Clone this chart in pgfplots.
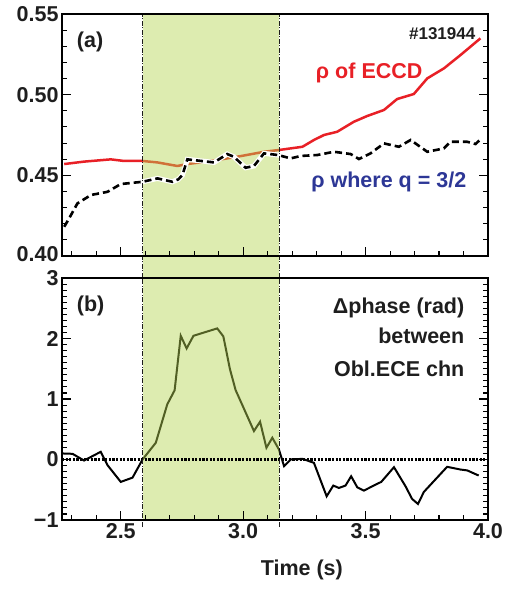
\documentclass[border=0pt]{standalone}
\usepackage{fontspec}
\setmainfont{Liberation Sans}
\usepackage{pgfplots}
\pgfplotsset{compat=1.18}
\definecolor{bandc}{RGB}{180,212,80}
\definecolor{eccdred}{RGB}{232,32,38}
\definecolor{qblue}{RGB}{45,55,150}
\definecolor{txt}{RGB}{30,30,30}
\newcommand{\bigf}{\fontsize{21.5}{25}\selectfont\bfseries}
\tikzset{tk/.style={line width=1.1pt, black}}
\pgfplotsset{
  common/.style={
    scale only axis, width=426pt, height=242pt, anchor=south west,
    xmin=2.26, xmax=4.0,
    axis on top, clip=false,
    axis line style={line width=2.4pt},
    tick align=inside,
    major tick length=9pt, minor tick length=5pt,
    tick style={line width=1.1pt, black},
    xtick={2.5,3.0,3.5,4.0},
    minor xtick={2.3,2.4,2.6,2.7,2.8,2.9,3.1,3.2,3.3,3.4,3.6,3.7,3.8,3.9},
    xtick pos=bottom, ytick pos=both,
    ticklabel style={font=\bigf, text=txt},
  }
}
\begin{document}
\begin{tikzpicture}
% ---------- top panel ----------
\begin{axis}[common, at={(62pt,-256pt)},
  ymin=0.40, ymax=0.55,
  ytick={0.40,0.45,0.50,0.55},
  yticklabels={\raisebox{5pt}{0.40},0.45,0.50,\raisebox{-4pt}{0.55}},
  minor ytick={0.41,0.42,0.43,0.44,0.46,0.47,0.48,0.49,0.51,0.52,0.53,0.54},
  xticklabels={},
]
\addplot[eccdred, line width=2.5pt] coordinates {
(2.269,0.457) (2.35,0.4585) (2.459,0.4599) (2.514,0.4589) (2.589,0.4589)
(2.65,0.458) (2.731,0.4558) (2.772,0.457) (2.85,0.4585) (2.935,0.4605)
(3.0,0.4622) (3.085,0.4646) (3.146,0.4657) (3.194,0.4667) (3.242,0.4677)
(3.289,0.4719) (3.330,0.475) (3.384,0.477) (3.452,0.4832) (3.507,0.4868)
(3.575,0.4905) (3.629,0.4973) (3.697,0.5004) (3.752,0.5101) (3.820,0.5163)
(3.888,0.5246) (3.969,0.5349)};
\fill[bandc, fill opacity=0.45] (axis cs:2.59,0.3864) rectangle (axis cs:3.146,0.55);
\addplot[white, line width=5pt] coordinates {
(2.269,0.4181) (2.289,0.4233) (2.323,0.4326) (2.378,0.4378) (2.446,0.4398)
(2.5,0.4446) (2.589,0.446) (2.65,0.4481) (2.711,0.446) (2.735,0.4475)
(2.752,0.4502) (2.772,0.4599) (2.881,0.458) (2.935,0.4632) (2.962,0.4615)
(3.010,0.4547) (3.044,0.4558) (3.085,0.4636) (3.142,0.4626) (3.194,0.4605)
(3.235,0.462) (3.303,0.4626) (3.371,0.4646) (3.439,0.4632) (3.473,0.4601)
(3.520,0.4636) (3.575,0.4698) (3.636,0.4677) (3.684,0.4719) (3.752,0.4646)
(3.820,0.4667) (3.847,0.4708) (3.915,0.4708) (3.949,0.4694) (3.969,0.4723)};
\addplot[black, line width=2.6pt, dash pattern=on 7pt off 4pt] coordinates {
(2.269,0.4181) (2.289,0.4233) (2.323,0.4326) (2.378,0.4378) (2.446,0.4398)
(2.5,0.4446) (2.589,0.446) (2.65,0.4481) (2.711,0.446) (2.735,0.4475)
(2.752,0.4502) (2.772,0.4599) (2.881,0.458) (2.935,0.4632) (2.962,0.4615)
(3.010,0.4547) (3.044,0.4558) (3.085,0.4636) (3.142,0.4626) (3.194,0.4605)
(3.235,0.462) (3.303,0.4626) (3.371,0.4646) (3.439,0.4632) (3.473,0.4601)
(3.520,0.4636) (3.575,0.4698) (3.636,0.4677) (3.684,0.4719) (3.752,0.4646)
(3.820,0.4667) (3.847,0.4708) (3.915,0.4708) (3.949,0.4694) (3.969,0.4723)};
\draw[txt, line width=0.8pt, dash pattern=on 5pt off 1.5pt on 1pt off 1.5pt]
  (axis cs:2.59,0.3864) -- (axis cs:2.59,0.55)
  (axis cs:3.146,0.3864) -- (axis cs:3.146,0.55);
% tick marks
\pgfplotsinvokeforeach{2.5,3.0,3.5}{\draw[tk] (axis cs:#1,0.40) -- ++(0pt,9pt);}
\pgfplotsinvokeforeach{2.3,2.4,2.6,2.7,2.8,2.9,3.1,3.2,3.3,3.4,3.6,3.7,3.8,3.9}{\draw[tk] (axis cs:#1,0.40) -- ++(0pt,5pt);}
\pgfplotsinvokeforeach{0.45,0.50}{\draw[tk] (axis cs:2.26,#1) -- ++(9pt,0pt); \draw[tk] (axis cs:4.0,#1) -- ++(-9pt,0pt);}
\pgfplotsinvokeforeach{0.41,0.42,0.43,0.44,0.46,0.47,0.48,0.49,0.51,0.52,0.53,0.54}{\draw[tk] (axis cs:2.26,#1) -- ++(5pt,0pt); \draw[tk] (axis cs:4.0,#1) -- ++(-5pt,0pt);}
\node[font=\bigf, text=txt, anchor=base west, inner sep=0pt] at (axis cs:2.32,0.529) {(a)};
\node[font=\fontsize{17}{20}\selectfont\bfseries, text=txt, anchor=base east, inner sep=0pt] at (axis cs:3.949,0.5345) {\#131944};
\node[font=\bigf, text=eccdred, anchor=base east, inner sep=0pt] at (axis cs:3.733,0.5103) {ρ of ECCD};
\node[font=\bigf, text=qblue, anchor=base east, inner sep=0pt] at (axis cs:3.912,0.4427) {ρ where q = 3/2};
\end{axis}
% ---------- bottom panel ----------
\begin{axis}[common, at={(62pt,-520pt)},
  ymin=-1, ymax=3,
  ytick={-1,0,1,2,3},
  yticklabels={−1,0,1,2,\raisebox{-4pt}{3}},
  minor y tick num=9,
  xticklabels={2.5,3.0,3.5,4.0},
  xlabel={Time (s)},
  xlabel style={font=\bigf, text=txt, at={(axis description cs:0.563,0)}, anchor=north, yshift=-36pt},
]
\addplot[black, line width=2pt] coordinates {
(2.262,0.1) (2.303,0.094) (2.350,-0.017) (2.418,0.127) (2.446,-0.094)
(2.5,-0.37) (2.548,-0.30) (2.589,0.0) (2.643,0.276) (2.690,0.912)
(2.720,1.144) (2.745,2.045) (2.769,1.836) (2.797,2.045) (2.894,2.167)
(2.919,2.035) (2.946,1.493) (2.969,1.149) (3.044,0.47) (3.069,0.625)
(3.095,0.194) (3.119,0.36) (3.146,0.166) (3.167,-0.11) (3.194,0.0)
(3.242,0.011) (3.289,-0.055) (3.341,-0.608) (3.368,-0.431) (3.391,-0.47)
(3.418,-0.431) (3.441,-0.277) (3.466,-0.459) (3.493,-0.514) (3.541,-0.415)
(3.564,-0.37) (3.616,-0.127) (3.663,-0.442) (3.690,-0.652) (3.714,-0.735)
(3.738,-0.536) (3.833,-0.121) (3.888,-0.166) (3.915,-0.18) (3.962,-0.265)};
\fill[bandc, fill opacity=0.45] (axis cs:2.59,-1) rectangle (axis cs:3.146,3);
\addplot[black, line width=3pt, dash pattern=on 2.2pt off 1.4pt] coordinates {(2.26,0) (4.0,0)};
\draw[txt, line width=0.8pt, dash pattern=on 5pt off 1.5pt on 1pt off 1.5pt]
  (axis cs:2.59,-1.116) -- (axis cs:2.59,3)
  (axis cs:3.146,-1.116) -- (axis cs:3.146,3);
% tick marks
\pgfplotsinvokeforeach{2.5,3.0,3.5}{\draw[tk] (axis cs:#1,-1) -- ++(0pt,9pt);}
\pgfplotsinvokeforeach{2.3,2.4,2.6,2.7,2.8,2.9,3.1,3.2,3.3,3.4,3.6,3.7,3.8,3.9}{\draw[tk] (axis cs:#1,-1) -- ++(0pt,5pt);}
\pgfplotsinvokeforeach{0,1,2}{\draw[tk] (axis cs:2.26,#1) -- ++(9pt,0pt); \draw[tk] (axis cs:4.0,#1) -- ++(-9pt,0pt);}
\pgfplotsinvokeforeach{-0.9,-0.8,-0.7,-0.6,-0.5,-0.4,-0.3,-0.2,-0.1,0.1,0.2,0.3,0.4,0.5,0.6,0.7,0.8,0.9,1.1,1.2,1.3,1.4,1.5,1.6,1.7,1.8,1.9,2.1,2.2,2.3,2.4,2.5,2.6,2.7,2.8,2.9}{\draw[tk] (axis cs:2.26,#1) -- ++(4pt,0pt); \draw[tk] (axis cs:4.0,#1) -- ++(-4pt,0pt);}
\node[font=\bigf, text=txt, anchor=base west, inner sep=0pt] at (axis cs:2.32,2.45) {(b)};
\node[font=\bigf, text=txt, anchor=base east, inner sep=0pt] at (axis cs:3.904,2.42) {Δphase (rad)};
\node[font=\bigf, text=txt, anchor=base east, inner sep=0pt] at (axis cs:3.904,1.91) {between};
\node[font=\bigf, text=txt, anchor=base east, inner sep=0pt] at (axis cs:3.904,1.38) {Obl.ECE chn};
\end{axis}
\path[use as bounding box] (0,0) rectangle (506pt,-597pt);
\end{tikzpicture}
\end{document}
